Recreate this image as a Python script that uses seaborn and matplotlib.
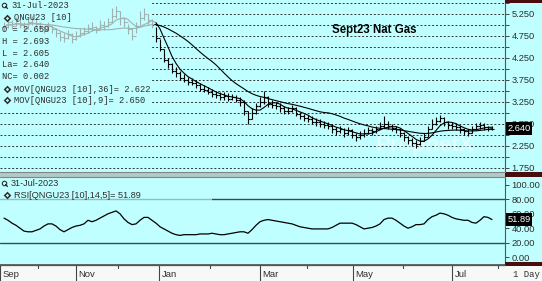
import numpy as np
import pandas as pd
import matplotlib
matplotlib.use('Agg')
import matplotlib.pyplot as plt
import matplotlib.transforms as mtrans
from matplotlib.patches import Rectangle
from matplotlib.lines import Line2D
import seaborn as sns

# ---------------- data ----------------
close = [4.95, 5.05, 4.98, 5.10, 5.00, 4.92, 5.05, 5.12, 5.02, 4.95,
         4.88, 4.98, 4.90, 4.80, 4.72, 4.70, 4.78, 4.68, 4.75, 4.82,
         4.85, 4.92, 4.95, 4.88, 5.00, 4.97, 5.05, 5.20, 5.30, 5.15,
         5.05, 4.90, 4.75, 4.95, 5.15, 5.25, 5.10, 5.02,
         4.70, 4.45, 4.20, 4.10, 3.95, 3.90, 3.80, 3.75, 3.70, 3.68,
         3.62, 3.55, 3.52, 3.48, 3.42, 3.40, 3.35, 3.38, 3.32, 3.35,
         3.30, 3.25, 3.05, 2.85, 3.00, 3.15, 3.25, 3.35, 3.20, 3.18,
         3.15, 3.10, 3.05, 3.05, 3.10, 2.98, 2.92, 2.88, 2.85, 2.80,
         2.78, 2.75, 2.72, 2.70, 2.62, 2.58, 2.62, 2.55, 2.60, 2.50,
         2.45, 2.50, 2.55, 2.60, 2.58, 2.62, 2.70, 2.75, 2.70, 2.65,
         2.62, 2.55, 2.45, 2.38, 2.32, 2.28, 2.35, 2.45, 2.62, 2.75,
         2.82, 2.88, 2.78, 2.72, 2.70, 2.68, 2.62, 2.58, 2.55, 2.62,
         2.70, 2.72, 2.68, 2.62, 2.64]
high = [5.05, 5.12, 5.10, 5.18, 5.12, 5.05, 5.12, 5.20, 5.15, 5.05,
        4.98, 5.05, 5.00, 4.92, 4.85, 4.80, 4.88, 4.80, 4.85, 4.92,
        4.95, 5.02, 5.05, 4.98, 5.10, 5.08, 5.15, 5.38, 5.42, 5.32,
        5.18, 5.02, 4.90, 5.05, 5.30, 5.38, 5.25, 5.12,
        4.95, 4.68, 4.45, 4.25, 4.12, 4.05, 3.95, 3.88, 3.82, 3.80,
        3.75, 3.68, 3.62, 3.58, 3.55, 3.50, 3.48, 3.46, 3.44, 3.42,
        3.40, 3.36, 3.28, 3.05, 3.10, 3.22, 3.35, 3.50, 3.38, 3.28,
        3.25, 3.22, 3.15, 3.14, 3.18, 3.12, 3.02, 2.98, 2.95, 2.92,
        2.88, 2.85, 2.82, 2.80, 2.74, 2.68, 2.70, 2.66, 2.68, 2.62,
        2.55, 2.58, 2.62, 2.68, 2.66, 2.70, 2.80, 2.92, 2.82, 2.74,
        2.70, 2.65, 2.56, 2.48, 2.42, 2.38, 2.44, 2.55, 2.70, 2.85,
        2.90, 2.96, 2.90, 2.82, 2.78, 2.76, 2.72, 2.66, 2.64, 2.70,
        2.76, 2.78, 2.76, 2.70, 2.693]
low = [4.85, 4.92, 4.90, 4.98, 4.92, 4.85, 4.90, 5.00, 4.95, 4.88,
       4.80, 4.85, 4.82, 4.72, 4.62, 4.60, 4.68, 4.58, 4.65, 4.72,
       4.76, 4.82, 4.85, 4.80, 4.90, 4.88, 4.95, 5.05, 5.15, 5.00,
       4.95, 4.78, 4.65, 4.80, 5.00, 5.10, 5.00, 4.92,
       4.60, 4.40, 4.15, 4.02, 3.90, 3.82, 3.75, 3.70, 3.64, 3.62,
       3.56, 3.50, 3.46, 3.42, 3.36, 3.34, 3.30, 3.30, 3.26, 3.28,
       3.24, 3.15, 2.95, 2.74, 2.85, 2.98, 3.12, 3.20, 3.12, 3.10,
       3.08, 3.02, 2.98, 2.98, 3.02, 2.92, 2.85, 2.82, 2.78, 2.74,
       2.70, 2.68, 2.65, 2.62, 2.55, 2.50, 2.54, 2.46, 2.50, 2.42,
       2.36, 2.40, 2.46, 2.52, 2.50, 2.54, 2.62, 2.66, 2.62, 2.58,
       2.54, 2.46, 2.36, 2.30, 2.24, 2.20, 2.26, 2.36, 2.45, 2.62,
       2.72, 2.78, 2.70, 2.64, 2.62, 2.60, 2.55, 2.50, 2.48, 2.54,
       2.62, 2.64, 2.60, 2.58, 2.605]
rsi = [54, 51, 47, 44, 40, 36, 35, 35, 37, 39,
       43, 46, 46, 43, 38, 35, 38, 41, 43, 44,
       46, 51, 49, 51, 54, 57, 60, 62, 64, 60,
       53, 48, 45, 46, 51, 55, 55, 51, 47, 42,
       39, 36, 33, 31, 30, 31, 31, 31, 31, 32,
       32, 32, 33, 32, 31, 31, 32, 33, 34, 35,
       35, 33, 38, 44, 49, 51, 52, 51, 50, 49,
       48, 47, 46, 44, 42, 41, 40, 39, 39, 39,
       39, 39, 41, 44, 47, 47, 47, 47, 45, 42,
       39, 40, 41, 43, 46, 52, 54, 54, 51, 47,
       43, 40, 42, 45, 45, 46, 52, 56, 58, 61,
       60, 58, 55, 53, 52, 51, 51, 48, 47, 51,
       56, 55, 52]
n_faded = 38  # bars before the contract's active period (drawn pale)

month_labels = ['Sep', 'Nov', 'Jan', 'Mar', 'May', 'Jul']
month_pos = [-1, 18, 38.75, 64, 87.25, 112]
price_ticks = [1.75, 2.25, 2.75, 3.25, 3.75, 4.25, 4.75, 5.25]
rsi_ticks = [0, 20, 40, 60, 80, 100]
rsi_levels = [20, 80]
header_lines = ['O = 2.659', 'H = 2.693', 'L = 2.605', 'La= 2.640', 'NC= 0.002']
ma_lines = ['MOV[QNGU23 [10],36]= 2.622', 'MOV[QNGU23 [10],9]= 2.650']
title = 'Sept23 Nat Gas'
last_price = 2.640
last_rsi = 51.89

# ---------------- style ----------------
sns.set_theme(style='white')
plt.rcParams['font.family'] = ['Liberation Sans', 'DejaVu Sans']
BG = '#C0FFFF'
DARK = '#2E2E2E'
FADE = '#9FB2B2'
MONO = ['Liberation Mono', 'DejaVu Sans Mono']

W, H = 542, 281
fig = plt.figure(figsize=(W / 100, H / 100), dpi=100)
fig.patch.set_facecolor(BG)

def fx(px):
    return px / W

def fy(py):
    return 1 - py / H

ax = fig.add_axes([0, fy(172), fx(505), 172 / H])
ax2 = fig.add_axes([0, fy(265), fx(505), (265 - 177) / H], sharex=ax)
for a in (ax, ax2):
    a.set_facecolor(BG)
    for s in ('top', 'left', 'bottom'):
        a.spines[s].set_visible(False)
    a.spines['right'].set_color('#555555')
    a.spines['right'].set_linewidth(0.8)
ax2.spines['bottom'].set_visible(True)
ax2.spines['bottom'].set_color('#555555')

x = np.arange(len(close))
ax.set_xlim(-1, 125.25)
ax.set_ylim(1.655, 5.56)
ax2.set_ylim(-11.1, 111.1)

df = pd.DataFrame({'x': x, 'close': close, 'high': high, 'low': low})
df['open'] = df['close'].shift(1).fillna(df['close'].iloc[0])
df['ma_long'] = df['close'].rolling(20, min_periods=1).mean()
df['ma_short'] = df['close'].rolling(5, min_periods=1).mean()

# grid
for v in np.arange(1.75, 5.51, 0.25):
    ax.axhline(v, color='#333333', lw=0.7, ls=(0, (2, 2)), zorder=1)

# header overlay (hides grid behind the legend block)
ax.add_patch(Rectangle((0, 1 - 106 / 172), 152 / 505, 106 / 172, transform=ax.transAxes,
                       facecolor=BG, edgecolor='none', zorder=2))

# watermark
ax.text(425, 2.25, 'ProphetX', transform=mtrans.blended_transform_factory(
    mtrans.IdentityTransform(), ax.transData), alpha=0)
ax.text(0.842, 0.155, 'ProphetX', transform=ax.transAxes, fontsize=16, fontweight='bold',
        color='white', alpha=0.45, ha='center', va='center', zorder=1.5)

# OHLC bars
fd = df[df.x < n_faded]
dk = df[df.x >= n_faded]
for part, col, z in ((fd, FADE, 3), (dk, 'black', 4)):
    ax.vlines(part.x, part.low, part.high, colors=col, lw=0.8, zorder=z)
    ax.hlines(part.close, part.x, part.x + 0.45, colors=col, lw=0.8, zorder=z)
    ax.hlines(part.open, part.x - 0.45, part.x, colors=col, lw=0.8, zorder=z)

# moving averages
fd_ma = df[df.x <= n_faded]
for col_name in ('ma_long', 'ma_short'):
    sns.lineplot(data=fd_ma, x='x', y=col_name, ax=ax, color=FADE, lw=0.8, zorder=3)
    sns.lineplot(data=dk, x='x', y=col_name, ax=ax, color='black', lw=0.8, zorder=5)
ax.set_xlabel('')
ax.set_ylabel('')

# price axis ticks
ax.yaxis.tick_right()
ax.set_yticks(price_ticks)
ax.set_yticklabels([f'{v:.3f}' for v in price_ticks])
ax.set_yticks(np.arange(1.75, 5.51, 0.25), minor=True)
ax.tick_params(axis='y', which='both', direction='out', length=3, width=0.7,
               color='#444444', labelsize=6.7, labelcolor=DARK, pad=1.5, right=True)
ax.tick_params(axis='x', bottom=False, labelbottom=False)

# last price box
ax.text(1.005, last_price, f'{last_price:.3f}',
        transform=mtrans.blended_transform_factory(ax.transAxes, ax.transData),
        fontsize=6.7, color='white', va='center', ha='left', zorder=10, clip_on=False,
        bbox=dict(facecolor='black', edgecolor='none', pad=1.2))

# title
ax.text(fx(332) * W / 505, 1 - 30 / 172, title, transform=ax.transAxes, fontsize=8.3,
        fontweight='bold', color='black', va='center', ha='left', zorder=10)

# header texts
def icon_diamond(px, py):
    fig.add_artist(Line2D([fx(px)], [fy(py)], marker='D', ms=2.8, mfc='none',
                          mec=DARK, mew=1.1, transform=fig.transFigure))

def icon_mag(px, py):
    fig.add_artist(Line2D([fx(px)], [fy(py)], marker='o', ms=3.2, mfc='none',
                          mec=DARK, mew=0.8, transform=fig.transFigure))
    fig.add_artist(Line2D([fx(px + 1.5), fx(px + 3.5)], [fy(py + 1.5), fy(py + 3.5)],
                          color=DARK, lw=0.9, transform=fig.transFigure))

icon_mag(4, 5)
fig.text(fx(11), fy(6), '31-Jul-2023', family=MONO, fontsize=6.3, color=DARK, va='center')
icon_diamond(6.5, 18)
fig.text(fx(14), fy(18), 'QNGU23 [10]', family=MONO, fontsize=6.3, color=DARK, va='center')
for k, t in enumerate(header_lines):
    fig.text(fx(2.5), fy(30 + k * 11.6), t, family=MONO, fontsize=6.3, color=DARK, va='center')
for k, t in enumerate(ma_lines):
    icon_diamond(6.5, 89 + k * 11.3)
    fig.text(fx(14), fy(89 + k * 11.3), t, family=MONO, fontsize=6.3, color=DARK,
             va='center', bbox=dict(facecolor=BG, edgecolor='none', pad=0.4))

# RSI panel
for lv in rsi_levels:
    ax2.axhline(lv, color='#3A4A4A', lw=1.0, zorder=2)
ax2.add_patch(Rectangle((0, 1 - 26 / 88), 212 / 505, 26 / 88, transform=ax2.transAxes,
                        facecolor=BG, edgecolor='none', alpha=0.65, zorder=3))
df_rsi = pd.DataFrame({'x': x, 'rsi': rsi})
sns.lineplot(data=df_rsi, x='x', y='rsi', ax=ax2, color='black', lw=0.9, zorder=4)
ax2.set_xlabel('')
ax2.set_ylabel('')
ax2.yaxis.tick_right()
ax2.set_yticks(rsi_ticks)
ax2.set_yticklabels([f'{v:.2f}' for v in rsi_ticks])
ax2.tick_params(axis='y', direction='out', length=3, width=0.7, color='#444444',
                labelsize=6.7, labelcolor=DARK, pad=1.5, right=True)
ax2.tick_params(axis='x', bottom=False, labelbottom=False)
ax2.text(1.005, last_rsi, f'{last_rsi:.2f}',
         transform=mtrans.blended_transform_factory(ax2.transAxes, ax2.transData),
         fontsize=6.7, color='white', va='center', ha='left', zorder=10, clip_on=False,
         bbox=dict(facecolor='black', edgecolor='none', pad=1.2))

icon_mag(4, 183)
fig.text(fx(11), fy(184), '31-Jul-2023', fontsize=6.6, color=DARK, va='center')
icon_diamond(6.5, 195)
fig.text(fx(14), fy(195), f'RSI[QNGU23 [10],14,5]= {last_rsi:.2f}', fontsize=6.6,
         color=DARK, va='center')

# separator bands and maroon bars
fig.add_artist(Rectangle((0, fy(177)), fx(505), 5 / H, transform=fig.transFigure,
                         facecolor='#B4C8C8', edgecolor='none'))
fig.add_artist(Line2D([0, fx(505)], [fy(172), fy(172)], color='#7A8A8A', lw=0.8,
                      transform=fig.transFigure))
fig.add_artist(Line2D([0, fx(505)], [fy(177), fy(177)], color='#7A8A8A', lw=0.8,
                      transform=fig.transFigure))
for y0, y1 in ((0, 3), (172, 177), (262, 265.5)):
    fig.add_artist(Rectangle((fx(505), fy(y1)), fx(37), (y1 - y0) / H,
                             transform=fig.transFigure, facecolor='#4A0C0C', edgecolor='none'))

# bottom date row
fig.add_artist(Rectangle((0, 0), 1, (H - 265.5) / H, transform=fig.transFigure,
                         facecolor='#F7F9F9', edgecolor='none', zorder=-1))
fig.add_artist(Line2D([0, fx(505)], [fy(265), fy(265)], color='#555555', lw=0.9,
                      transform=fig.transFigure))
tr = mtrans.blended_transform_factory(ax2.transData, fig.transFigure)
for pos, lab in zip(month_pos, month_labels):
    ax2.add_artist(Line2D([pos, pos], [fy(265), 0], color='#444444', lw=0.8,
                          transform=tr, clip_on=False))
    ax2.text(pos + 0.6, fy(274.5), lab, transform=tr, fontsize=6.8, color=DARK,
             va='center', ha='left', clip_on=False)
for a, b in zip(month_pos[:-1], month_pos[1:] + [0]):
    pass
minor_pos = [(a + b) / 2 for a, b in zip(month_pos[:-1], month_pos[1:])] + [123.5]
for pos in minor_pos:
    ax2.add_artist(Line2D([pos, pos], [fy(265), fy(267.5)], color='#444444', lw=0.8,
                          transform=tr, clip_on=False))
fig.text(fx(513), fy(274.5), '1 Day', family=MONO, fontsize=6.5, color=DARK, va='center')

fig.savefig('out.png', dpi=100, facecolor=fig.get_facecolor())
